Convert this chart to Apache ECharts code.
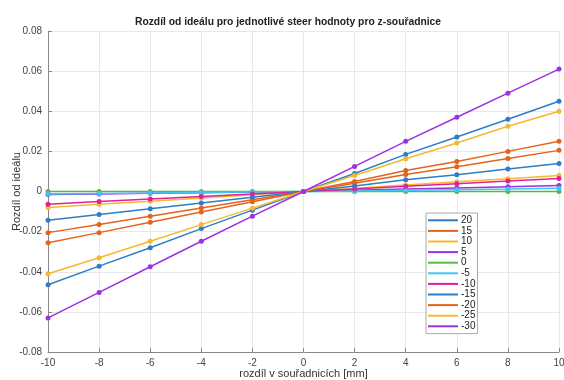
<!DOCTYPE html>
<html><head><meta charset="utf-8">
<script src="https://cdn.jsdelivr.net/npm/echarts@6/dist/echarts.min.js"></script>
<style>html,body{margin:0;padding:0;background:#fff}#c{width:564px;height:380px}</style>
</head><body><div id="c"></div>
<script>
const xValues = [-10, -8, -6, -4, -2, 0, 2, 4, 6, 8, 10];
const seriesNames = ['20', '15', '10', '5', '0', '-5', '-10', '-15', '-20', '-25', '-30'];
const s20  = [-0.0465, -0.0372, -0.0280, -0.0185, -0.0093, 0, 0.0090, 0.0185, 0.0272, 0.0360, 0.0450];
const s15  = [-0.0205, -0.0165, -0.0123, -0.0082, -0.0041, 0, 0.0041, 0.0085, 0.0123, 0.0164, 0.0205];
const s10  = [-0.0080, -0.0064, -0.0048, -0.0032, -0.0016, 0, 0.0016, 0.0032, 0.0048, 0.0064, 0.0080];
const s5   = [-0.0015, -0.0012, -0.0009, -0.0006, -0.0003, 0, 0.0006, 0.0012, 0.0018, 0.0024, 0.0030];
const s0   = [0, 0, 0, 0, 0, 0, 0, 0, 0, 0, 0];
const sm5  = [-0.0013, -0.0010, -0.0008, -0.0005, -0.0003, 0, 0.0003, 0.0006, 0.0009, 0.0012, 0.0016];
const sm10 = [-0.0063, -0.0050, -0.0038, -0.0025, -0.0013, 0, 0.0013, 0.0026, 0.0039, 0.0052, 0.0065];
const sm15 = [-0.0143, -0.0115, -0.0086, -0.0057, -0.0029, 0, 0.0028, 0.0058, 0.0084, 0.0112, 0.0140];
const sm20 = [-0.0255, -0.0205, -0.0153, -0.0102, -0.0051, 0, 0.0050, 0.0105, 0.0150, 0.0200, 0.0250];
const sm25 = [-0.0410, -0.0330, -0.0248, -0.0165, -0.0083, 0, 0.0080, 0.0163, 0.0242, 0.0325, 0.0400];
const sm30 = [-0.0630, -0.0503, -0.0375, -0.0248, -0.0123, 0, 0.0125, 0.0250, 0.0370, 0.0490, 0.0610];
const allValues = [s20, s15, s10, s5, s0, sm5, sm10, sm15, sm20, sm25, sm30];
const colors = ['#2d7dc8', '#e5631a', '#f5b930', '#9a32e2', '#55b944', '#3fc6f0', '#e0209a', '#2d7dc8', '#e5631a', '#f5b930', '#9a32e2'];
const yTicks = [-0.08, -0.06, -0.04, -0.02, 0, 0.02, 0.04, 0.06, 0.08];

const chart = echarts.init(document.getElementById('c'));
const font = 'Liberation Sans, Arial, sans-serif';
chart.setOption({
  animation: false,
  color: colors,
  textStyle: {fontFamily: font},
  title: {
    text: 'Rozdíl od ideálu pro jednotlivé steer hodnoty pro z-souřadnice',
    left: 130, top: 12,
    textStyle: {fontSize: 10.3, fontWeight: 'bold', color: '#222', fontFamily: font}
  },
  grid: {left: 48, right: 5, top: 31, bottom: 28, containLabel: false, outerBoundsMode: 'none'},
  legend: {
    orient: 'vertical', left: 426, top: 213,
    data: seriesNames,
    icon: 'rect', itemWidth: 30, itemHeight: 2, itemGap: 0,
    padding: [2, 2, 2, 2],
    borderColor: '#aaa', borderWidth: 1, borderRadius: 0, backgroundColor: '#fff',
    textStyle: {fontSize: 10, color: '#222', lineHeight: 10.6, padding: [0, 0, 0, -2], fontFamily: font}
  },
  xAxis: {
    type: 'value', min: -10, max: 10, interval: 2,
    name: 'rozdíl v souřadnicích [mm]', nameLocation: 'middle', nameGap: 16, nameMoveOverlap: false,
    nameTextStyle: {fontSize: 11, color: '#333', fontFamily: font},
    axisLine: {show: true, onZero: false, lineStyle: {color: '#888', width: 1}},
    axisTick: {show: true, inside: true, length: 4, lineStyle: {color: '#888'}},
    axisLabel: {fontSize: 10, color: '#444', margin: 6, fontFamily: font},
    splitLine: {show: true, lineStyle: {color: '#e8e8e8', width: 1}}
  },
  yAxis: {
    type: 'value', min: yTicks[0], max: yTicks[yTicks.length - 1], interval: 0.02,
    name: 'Rozdíl od ideálu', nameLocation: 'middle', nameGap: 26, nameRotate: 90, nameMoveOverlap: false,
    nameTextStyle: {fontSize: 11, color: '#333', fontFamily: font},
    axisLine: {show: true, onZero: false, lineStyle: {color: '#888', width: 1}},
    axisTick: {show: true, inside: true, length: 4, lineStyle: {color: '#888'}},
    axisLabel: {fontSize: 10, color: '#444', margin: 6, fontFamily: font,
      formatter: v => Math.abs(v) < 1e-9 ? '0' : String(+v.toFixed(2))},
    splitLine: {show: true, lineStyle: {color: '#e8e8e8', width: 1}}
  },
  series: seriesNames.map((n, i) => ({
    name: n, type: 'line',
    data: xValues.map((x, j) => [x, allValues[i][j]]),
    symbol: 'circle', symbolSize: 5,
    lineStyle: {width: 1.5},
    itemStyle: {color: colors[i]},
    emphasis: {disabled: true}
  }))
});
</script></body></html>
